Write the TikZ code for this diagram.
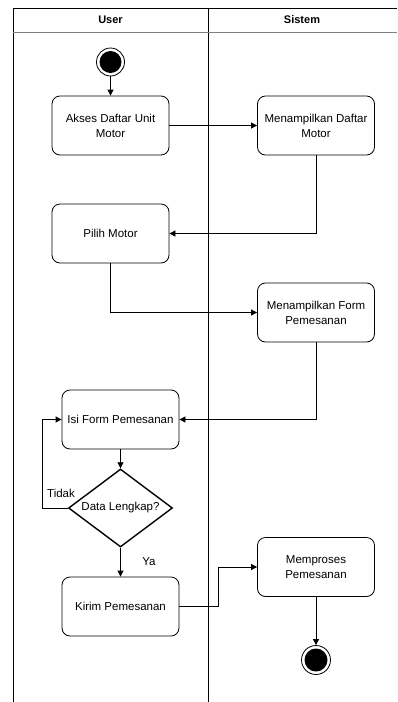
\documentclass[tikz,border=0pt]{standalone}
\usepackage{fontspec}
\setmainfont{Liberation Sans}
\usetikzlibrary{arrows.meta,shapes.geometric}
\tikzset{
  aksi/.style={draw, rectangle, rounded corners=8pt, minimum width=117pt,
    minimum height=59pt, align=center, line width=0.8pt,
    font=\fontsize{11.5}{15}\selectfont},
  keputusan/.style={draw, diamond, minimum width=104pt, minimum height=78pt,
    inner sep=0pt, line width=1.4pt, font=\fontsize{11.5}{15}\selectfont},
  panah/.style={-{Triangle[length=6pt,width=6pt]}, line width=0.8pt},
  label/.style={font=\fontsize{11.5}{15}\selectfont},
  judul/.style={font=\fontsize{11}{13}\selectfont\bfseries}
}
\begin{document}
\begin{tikzpicture}[x=1pt,y=-1pt]
\useasboundingbox (0,0) rectangle (397,702);
% Swimlane
\draw[line width=0.9pt] (13,702) -- (13,8) -- (397,8);
\draw[line width=0.9pt] (208,8) -- (208,702);
\draw[gray, line width=0.9pt] (13,32) -- (397,32);
\node[judul] (user) at (110.5,20) {User};
\node[judul] (sistem) at (302,20) {Sistem};
% Awal
\node[circle, draw, line width=0.8pt, minimum size=28pt, inner sep=0pt] (mulai) at (110.5,62) {};
\fill (mulai) circle (11);
% Aktivitas
\node[aksi] (akses) at (110.5,125.5) {Akses Daftar Unit\\Motor};
\node[aksi] (daftar) at (316,125.5) {Menampilkan Daftar\\Motor};
\node[aksi] (pilih) at (110.5,233.5) {Pilih Motor};
\node[aksi] (form) at (316,312.5) {Menampilkan Form\\Pemesanan};
\node[aksi] (isi) at (120.5,419.5) {Isi Form Pemesanan};
\node[keputusan] (cek) at (120.5,508) {\makebox[0pt]{Data Lengkap?}};
\node[aksi] (kirim) at (120.5,606.5) {Kirim Pemesanan};
\node[aksi] (proses) at (316,567) {Memproses\\Pemesanan};
% Akhir
\node[circle, draw, line width=0.8pt, minimum size=29pt, inner sep=0pt] (selesai) at (316,660) {};
\fill (selesai) circle (11.5);
% Alur
\draw[panah] (mulai) -- (akses);
\draw[panah] (akses) -- (daftar);
\draw[panah] (daftar.south) |- (pilih.east);
\draw[panah] (pilih.south) |- (form.west);
\draw[panah] (form.south) |- (isi.east);
\draw[panah] (isi) -- (cek);
\coordinate (balik) at (42,508);
\draw[panah] (cek.west) -- (balik) |- (isi.west);
\node[label] (tidak) at (61,493) {Tidak};
\draw[panah] (cek) -- (kirim);
\node[label] (ya) at (149,562) {Ya};
\coordinate (tekuk) at (218,567);
\draw[panah] (kirim.east) -| (tekuk) -- (proses.west);
\draw[panah] (proses) -- (selesai);
\end{tikzpicture}
\end{document}
